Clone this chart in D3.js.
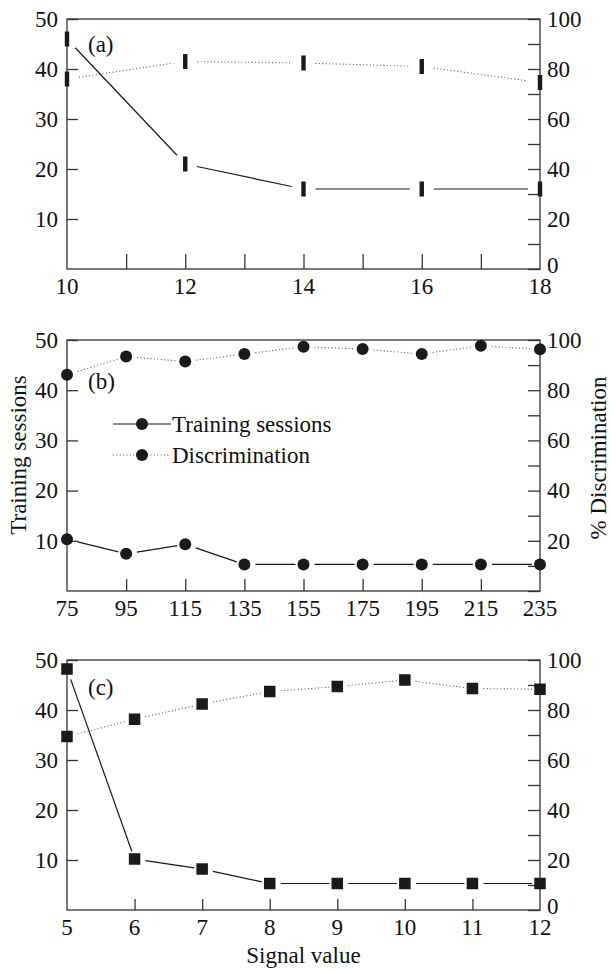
<!DOCTYPE html>
<html>
<head>
<meta charset="utf-8">
<script src="https://cdn.jsdelivr.net/npm/d3@7"></script>
<style>
  html, body { margin: 0; padding: 0; background: #fff; }
  svg { display: block; }
  text { font-family: "Liberation Serif", "Times New Roman", serif; fill: #111; }
</style>
</head>
<body>
<script>
// Panel (a): signal duration
const signalA = [10, 12, 14, 16, 18];
const sessionsA = [46, 21, 16, 16, 16];
const discA = [76, 83, 82.4, 81, 74.6];
const xTicksA = [10, 12, 14, 16, 18];

// Panel (b)
const signalB = [75, 95, 115, 135, 155, 175, 195, 215, 235];
const sessionsB = [10.3, 7.4, 9.3, 5.3, 5.3, 5.3, 5.3, 5.3, 5.3];
const discB = [86.2, 93.4, 91.4, 94.4, 97.3, 96.4, 94.4, 97.7, 96.3];
const xTicksB = [75, 95, 115, 135, 155, 175, 195, 215, 235];

// Panel (c)
const signalC = [5, 6, 7, 8, 9, 10, 11, 12];
const sessionsC = [48.2, 10.2, 8.2, 5.3, 5.3, 5.3, 5.3, 5.3];
const discC = [69.4, 76.3, 82.4, 87.4, 89.4, 92.0, 88.6, 88.3];
const xTicksC = [5, 6, 7, 8, 9, 10, 11, 12];

// Shared axis ticks
const leftTicks = [10, 20, 30, 40, 50];
const rightTicks = [0, 10, 20, 30, 40, 50, 60, 70, 80, 90, 100];
const rightLabels = [0, 20, 40, 60, 80, 100];

const legendLabels = ["Training sessions", "Discrimination"];
const panelLabels = ["(a)", "(b)", "(c)"];
const yTitleLeft = "Training sessions";
const yTitleRight = "% Discrimination";
const xTitle = "Signal value";

const W = 611, H = 970;
const L = 67, R = 540;
const FS = 23;

const svg = d3.select("body").append("svg").attr("width", W).attr("height", H);

const panels = [
  { label: panelLabels[0], labelDy: 33, top: 19, bottom: 269, x: signalA, s: sessionsA, d: discA,
    ticks: xTicksA, minor: d3.range(11, 18), domain: [10, 18], marker: "bar",
    gapStart: 12, gapEnd: 12, bottomTick: 15, zeroRight: true },
  { label: panelLabels[1], labelDy: 49, top: 340, bottom: 591, x: signalB, s: sessionsB, d: discB,
    ticks: xTicksB, minor: xTicksB.slice(1, -1), domain: [75, 235], marker: "circle",
    gapStart: 11, gapEnd: 8, bottomTick: 12, legend: true, zeroRight: false },
  { label: panelLabels[2], labelDy: 35, top: 660, bottom: 910, x: signalC, s: sessionsC, d: discC,
    ticks: xTicksC, minor: xTicksC.slice(1, -1), domain: [5, 12], marker: "square",
    gapStart: 11, gapEnd: 8, bottomTick: 11, zeroRight: true }
];

function drawMarker(g, type, cx, cy) {
  if (type === "bar") {
    g.append("rect").attr("x", cx - 2.2).attr("y", cy - 7.5)
      .attr("width", 4.4).attr("height", 15).attr("fill", "#1a1a1a");
  } else if (type === "circle") {
    g.append("circle").attr("cx", cx).attr("cy", cy).attr("r", 6).attr("fill", "#1a1a1a");
  } else {
    g.append("rect").attr("x", cx - 5.75).attr("y", cy - 5.75)
      .attr("width", 11.5).attr("height", 11.5).attr("fill", "#1a1a1a");
  }
}

// Line segments between neighbouring points, trimmed so they stop short of the markers
function drawSegments(g, pts, gs, ge, dotted) {
  for (let i = 0; i < pts.length - 1; i++) {
    const [x0, y0] = pts[i], [x1, y1] = pts[i + 1];
    const dx = x1 - x0, dy = y1 - y0, len = Math.hypot(dx, dy);
    const ux = dx / len, uy = dy / len;
    const ln = g.append("line")
      .attr("x1", x0 + ux * gs).attr("y1", y0 + uy * gs)
      .attr("x2", x1 - ux * ge).attr("y2", y1 - uy * ge);
    if (dotted) {
      ln.attr("stroke", "#555").attr("stroke-width", 1.1).attr("stroke-dasharray", "1 2.4");
    } else {
      ln.attr("stroke", "#1a1a1a").attr("stroke-width", 1.2);
    }
  }
}

panels.forEach(p => {
  const g = svg.append("g");
  const x = d3.scaleLinear().domain(p.domain).range([L, R]);
  const yL = d3.scaleLinear().domain([0, 50]).range([p.bottom, p.top]);
  const yR = d3.scaleLinear().domain([0, 100]).range([p.bottom, p.top]);
  const shownRight = p.zeroRight ? rightLabels : rightLabels.filter(v => v !== 0);

  // left axis
  const axL = g.append("g").attr("transform", `translate(${L},0)`)
    .call(d3.axisLeft(yL).tickValues(leftTicks).tickSize(-11).tickPadding(9));
  // right axis
  const axR = g.append("g").attr("transform", `translate(${R},0)`)
    .call(d3.axisRight(yR).tickValues(rightTicks).tickSize(-12).tickPadding(7)
      .tickFormat(v => shownRight.includes(v) ? v : ""));
  // the zero label sits a little higher so it clears the last x label
  axR.selectAll(".tick").filter(v => v === 0).select("text").attr("dy", "0.14em");
  // bottom axis: inward ticks
  const axB = g.append("g").attr("transform", `translate(0,${p.bottom})`)
    .call(d3.axisBottom(x).tickValues(p.minor).tickSize(-p.bottomTick).tickFormat(""));
  // bottom labels
  g.selectAll("text.xl").data(p.ticks).enter().append("text")
    .attr("class", "xl")
    .attr("x", d => x(d)).attr("y", p.bottom + 25)
    .attr("text-anchor", "middle").style("font-size", FS + "px").text(d => d);

  [axL, axR, axB].forEach(a => {
    a.select(".domain").remove();
    a.selectAll("line").attr("stroke", "#333").attr("stroke-width", 1.3);
    a.selectAll("text").style("font-size", FS + "px").attr("fill", "#111")
      .style("font-family", '"Liberation Serif", serif');
  });

  // frame
  g.append("rect").attr("x", L).attr("y", p.top).attr("width", R - L).attr("height", p.bottom - p.top)
    .attr("fill", "none").attr("stroke", "#333").attr("stroke-width", 1.3);

  // panel letter
  g.append("text").attr("x", L + 21).attr("y", p.top + p.labelDy).style("font-size", FS + "px").text(p.label);

  const ptsS = p.x.map((v, i) => [x(v), yL(p.s[i])]);
  const ptsD = p.x.map((v, i) => [x(v), yR(p.d[i])]);
  drawSegments(g, ptsD, p.gapStart, p.gapEnd, true);
  drawSegments(g, ptsS, p.gapStart, p.gapEnd, false);
  ptsD.forEach(([cx, cy]) => drawMarker(g, p.marker, cx, cy));
  ptsS.forEach(([cx, cy]) => drawMarker(g, p.marker, cx, cy));

  if (p.legend) {
    const lg = g.append("g");
    const rows = [{ y: 424, dotted: false }, { y: 455, dotted: true }];
    rows.forEach((r, i) => {
      const ln = lg.append("line").attr("x1", 113).attr("x2", 171).attr("y1", r.y).attr("y2", r.y);
      if (r.dotted) ln.attr("stroke", "#555").attr("stroke-width", 1.1).attr("stroke-dasharray", "1 2.4");
      else ln.attr("stroke", "#1a1a1a").attr("stroke-width", 1.2);
      drawMarker(lg, "circle", 142, r.y);
      lg.append("text").attr("x", 172).attr("y", r.y + 8).style("font-size", FS + "px").text(legendLabels[i]);
    });
  }
});

// axis titles
svg.append("text").attr("transform", "translate(26,455) rotate(-90)")
  .attr("text-anchor", "middle").style("font-size", FS + "px").text(yTitleLeft);
svg.append("text").attr("transform", "translate(606,458) rotate(-90)")
  .attr("text-anchor", "middle").style("font-size", FS + "px").text(yTitleRight);
svg.append("text").attr("x", (L + R) / 2).attr("y", 963)
  .attr("text-anchor", "middle").style("font-size", FS + "px").text(xTitle);
</script>
</body>
</html>
